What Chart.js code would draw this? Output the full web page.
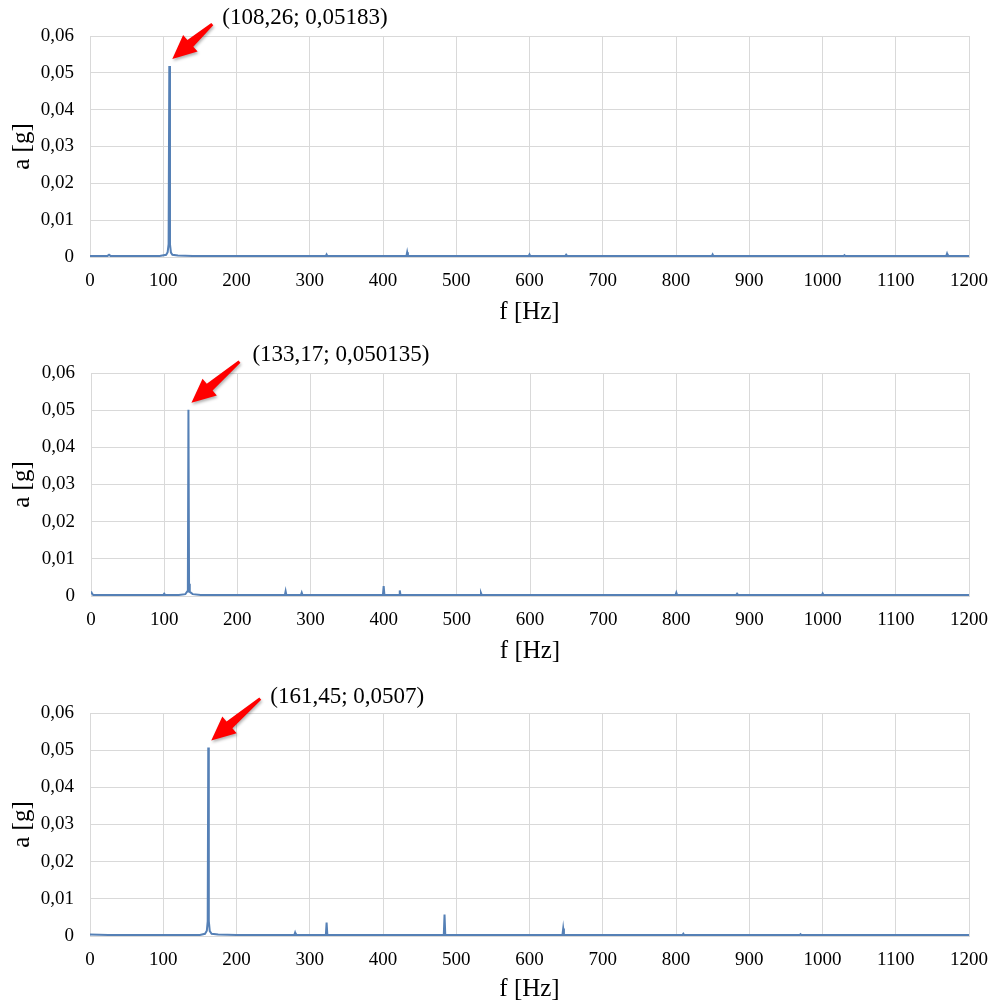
<!DOCTYPE html>
<html>
<head>
<meta charset="utf-8">
<script src="https://cdn.jsdelivr.net/npm/chart.js@4.4.1/dist/chart.umd.min.js"></script>
<style>
  body { margin: 0; background: #fff; }
  #wrap { position: relative; width: 994px; height: 1005px; }
  canvas { position: absolute; left: 0; }
</style>
</head>
<body>
<div id="wrap">
  <canvas id="fft1" width="994" height="335" style="top:0"></canvas>
  <canvas id="fft2" width="994" height="335" style="top:335px"></canvas>
  <canvas id="fft3" width="994" height="335" style="top:670px"></canvas>
</div>
<script>
// Axis ticks (shared by all three spectra)
var xTicks = [0, 100, 200, 300, 400, 500, 600, 700, 800, 900, 1000, 1100, 1200];
var xTickLabels = ["0", "100", "200", "300", "400", "500", "600", "700", "800", "900", "1000", "1100", "1200"];
var yTicks = [0, 0.01, 0.02, 0.03, 0.04, 0.05, 0.06];
var yTickLabels = ["0", "0,01", "0,02", "0,03", "0,04", "0,05", "0,06"];

// Spectrum 1
var freq1 = [0, 12, 24, 26, 28, 50, 75, 95, 104, 106,
  107.3, 108.26, 109.2, 110.5, 112.5, 120, 140, 170, 200, 230,
  260, 290, 322, 323, 324, 350, 380, 410, 432, 433,
  434, 460, 490, 520, 550, 580, 599, 600, 601, 625,
  649, 650, 651, 680, 710, 740, 770, 800, 830, 849,
  850, 851, 880, 910, 940, 970, 1000, 1029, 1030, 1031,
  1060, 1090, 1120, 1150, 1169, 1170, 1171, 1200];
var amp1 = [0.0003, 0.0003, 0.0003, 0.0006, 0.0003, 0.0003, 0.0003, 0.0003, 0.0006, 0.0013,
  0.0035, 0.05183, 0.0034, 0.0012, 0.0006, 0.0004, 0.0003, 0.0003, 0.0003, 0.0003,
  0.0003, 0.0003, 0.0003, 0.0007, 0.0003, 0.0003, 0.0003, 0.0003, 0.0003, 0.0013,
  0.0003, 0.0003, 0.0003, 0.0003, 0.0003, 0.0003, 0.0003, 0.0007, 0.0003, 0.0003,
  0.0003, 0.0006, 0.0003, 0.0003, 0.0003, 0.0003, 0.0003, 0.0003, 0.0003, 0.0003,
  0.0007, 0.0003, 0.0003, 0.0003, 0.0003, 0.0003, 0.0003, 0.0003, 0.0005, 0.0003,
  0.0003, 0.0003, 0.0003, 0.0003, 0.0003, 0.0009, 0.0003, 0.0003];

// Spectrum 2
var freq2 = [0, 1.5, 3, 30, 60, 99, 100, 101, 120, 129,
  131.5, 132.4, 133.17, 134, 135, 139, 150, 170, 200, 230,
  265, 266, 267, 287, 288, 289, 320, 350, 380, 399,
  400, 401, 421, 422, 423, 450, 480, 510, 532, 533,
  534, 570, 610, 650, 690, 730, 770, 799, 800, 801,
  840, 882, 883, 884, 920, 960, 999, 1000, 1001, 1040,
  1080, 1120, 1160, 1200];
var amp2 = [0.0012, 0.0006, 0.0003, 0.0003, 0.0003, 0.0003, 0.0006, 0.0003, 0.0003, 0.0005,
  0.0012, 0.0033, 0.050135, 0.0033, 0.0011, 0.0005, 0.0003, 0.0003, 0.0003, 0.0003,
  0.0003, 0.0013, 0.0003, 0.0003, 0.0009, 0.0003, 0.0003, 0.0003, 0.0003, 0.0003,
  0.0027, 0.0003, 0.0003, 0.0015, 0.0003, 0.0003, 0.0003, 0.0003, 0.0003, 0.0008,
  0.0003, 0.0003, 0.0003, 0.0003, 0.0003, 0.0003, 0.0003, 0.0003, 0.0009, 0.0003,
  0.0003, 0.0003, 0.0006, 0.0003, 0.0003, 0.0003, 0.0003, 0.0007, 0.0003, 0.0003,
  0.0003, 0.0003, 0.0003, 0.0003];

// Spectrum 3
var freq3 = [0, 25, 50, 75, 100, 130, 150, 157, 159.5, 160.7,
  161.45, 162.2, 163.5, 166, 175, 200, 240, 279, 280, 281,
  305, 322, 323, 324, 350, 400, 450, 483, 484, 485,
  520, 560, 600, 645, 646, 647, 680, 720, 760, 809,
  810, 811, 850, 900, 950, 969, 970, 971, 1020, 1080,
  1140, 1200];
var amp3 = [0.0004, 0.0003, 0.0003, 0.0003, 0.0003, 0.0003, 0.0003, 0.0006, 0.0014, 0.0040,
  0.0507, 0.0040, 0.0013, 0.0006, 0.0004, 0.0003, 0.0003, 0.0003, 0.0009, 0.0003,
  0.0003, 0.0003, 0.0036, 0.0003, 0.0003, 0.0003, 0.0003, 0.0003, 0.0058, 0.0003,
  0.0003, 0.0003, 0.0003, 0.0003, 0.0020, 0.0003, 0.0003, 0.0003, 0.0003, 0.0003,
  0.0006, 0.0003, 0.0003, 0.0003, 0.0003, 0.0003, 0.0005, 0.0003, 0.0003, 0.0003,
  0.0003, 0.0003];

// Peak annotations
var peakFreqs = [108.26, 133.17, 161.45];
var peakAmps = [0.05183, 0.050135, 0.0507];
var peakLabels = ["(108,26; 0,05183)", "(133,17; 0,050135)", "(161,45; 0,0507)"];

var serif = "'Liberation Serif', 'Times New Roman', serif";
var gridColor = "#d9d9d9";
var lineColor = "#5580b6";

// Draws the red arrow and the text pointing at the main peak
var peakArrowPlugin = {
  id: "peakArrow",
  afterDraw: function (chart) {
    var o = chart.options.plugins.peakArrow;
    var ctx = chart.ctx;
    var px = chart.scales.x.getPixelForValue(o.freq);
    var py = chart.scales.y.getPixelForValue(o.amp);

    var tx = px + 3, ty = py - 7;
    var ex = tx + o.arrow[0], ey = ty + o.arrow[1];
    var len = Math.sqrt((ex - tx) * (ex - tx) + (ey - ty) * (ey - ty));
    var ux = (ex - tx) / len, uy = (ey - ty) / len;
    var nx = -uy, ny = ux;
    var headLen = 24, headHalf = 11, shaftNear = 4.5, shaftTail = 1.5;
    var bx = tx + ux * headLen, by = ty + uy * headLen;

    ctx.save();
    ctx.shadowColor = "rgba(0,0,0,0.3)";
    ctx.shadowBlur = 3;
    ctx.shadowOffsetX = 1;
    ctx.shadowOffsetY = 2;
    ctx.fillStyle = "#ff0000";
    ctx.beginPath();
    ctx.moveTo(tx, ty);
    ctx.lineTo(bx + nx * headHalf, by + ny * headHalf);
    ctx.lineTo(bx + nx * shaftNear, by + ny * shaftNear);
    ctx.lineTo(ex + nx * shaftTail, ey + ny * shaftTail);
    ctx.lineTo(ex - nx * shaftTail, ey - ny * shaftTail);
    ctx.lineTo(bx - nx * shaftNear, by - ny * shaftNear);
    ctx.lineTo(bx - nx * headHalf, by - ny * headHalf);
    ctx.closePath();
    ctx.fill();
    ctx.restore();

    ctx.save();
    ctx.font = "23px " + serif;
    ctx.fillStyle = "#000";
    ctx.textAlign = "left";
    ctx.textBaseline = "middle";
    ctx.fillText(o.text, px + o.textAt[0], py + o.textAt[1]);
    ctx.restore();
  },
};

function makeSpectrum(id, freq, amp, idx, cfg) {
  var points = freq.map(function (f, i) {
    return { x: f, y: amp[i] };
  });

  return new Chart(document.getElementById(id), {
    type: "line",
    data: {
      datasets: [
        {
          data: points,
          borderColor: lineColor,
          borderWidth: 2,
          pointRadius: 0,
          tension: 0,
          fill: false,
        },
      ],
    },
    options: {
      responsive: false,
      animation: false,
      devicePixelRatio: 1,
      layout: {
        padding: { top: cfg.top, bottom: cfg.bottom, left: 0, right: 25 },
      },
      plugins: {
        legend: { display: false },
        tooltip: { enabled: false },
        peakArrow: {
          freq: peakFreqs[idx],
          amp: peakAmps[idx],
          text: peakLabels[idx],
          arrow: cfg.arrow,
          textAt: cfg.textAt,
        },
      },
      scales: {
        x: {
          type: "linear",
          min: 0,
          max: 1200,
          afterBuildTicks: function (s) {
            s.ticks = xTicks.map(function (v) { return { value: v }; });
          },
          afterFit: function (s) {
            s.height = cfg.xH;
            s.paddingLeft = 0;
            s.paddingRight = 0;
          },
          grid: { color: gridColor, drawTicks: false },
          border: { color: gridColor },
          ticks: {
            font: { family: serif, size: 19 },
            color: "#000",
            padding: 13,
            maxRotation: 0,
            autoSkip: false,
            callback: function (v, i) { return xTickLabels[i]; },
          },
          title: {
            display: true,
            text: "f [Hz]",
            font: { family: serif, size: 25 },
            color: "#000",
            padding: { top: 0, bottom: cfg.xTitlePad },
          },
        },
        y: {
          min: 0,
          max: 0.06,
          afterBuildTicks: function (s) {
            s.ticks = yTicks.map(function (v) { return { value: v }; });
          },
          afterFit: function (s) {
            s.width = cfg.yW;
            s.paddingTop = 0;
            s.paddingBottom = 0;
          },
          grid: { color: gridColor, drawTicks: false },
          border: { color: gridColor },
          ticks: {
            font: { family: serif, size: 19 },
            color: "#000",
            padding: 16,
            callback: function (v, i) { return yTickLabels[i]; },
          },
          title: {
            display: true,
            text: "a [g]",
            font: { family: serif, size: 25 },
            color: "#000",
            padding: { top: 7, bottom: 0 },
          },
        },
      },
    },
    plugins: [peakArrowPlugin],
  });
}

makeSpectrum("fft1", freq1, amp1, 0, {
  top: 36, bottom: 8, xH: 70, xTitlePad: 0, yW: 90, arrow: [40, -35], textAt: [53, -48],
});
makeSpectrum("fft2", freq2, amp2, 1, {
  top: 38, bottom: 4, xH: 70, xTitlePad: 0, yW: 91, arrow: [48, -41], textAt: [64, -55],
});
makeSpectrum("fft3", freq3, amp3, 2, {
  top: 43, bottom: 1, xH: 68, xTitlePad: 0, yW: 90, arrow: [49, -42], textAt: [62, -51],
});
</script>
</body>
</html>
